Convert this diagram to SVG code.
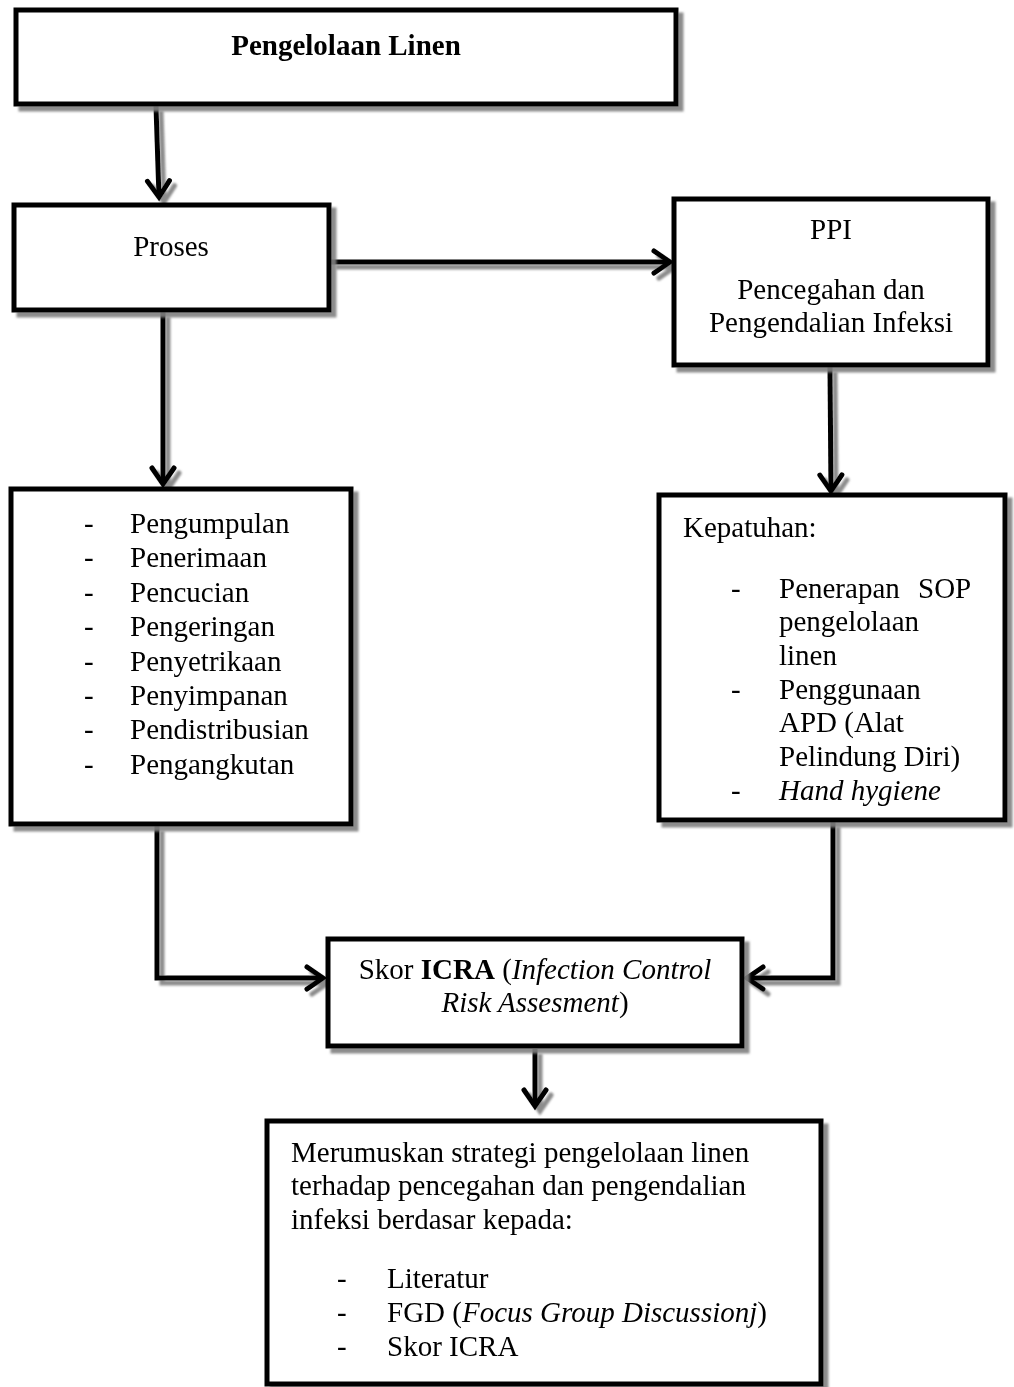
<svg xmlns="http://www.w3.org/2000/svg" width="1014" height="1387" viewBox="0 0 1014 1387">
<style>
.box{fill:#fff;stroke:#000;stroke-width:5}
.t{font-family:"Liberation Serif","Times New Roman",serif;font-size:29px;fill:#000}
.c{text-anchor:middle}
.b{font-weight:bold}
.i{font-style:italic}
.ln{fill:none;stroke:#000;stroke-width:5;stroke-linejoin:miter}
</style>
<defs>
<filter id="sh" x="-10%" y="-10%" width="130%" height="130%">
<feDropShadow dx="5" dy="5" stdDeviation="1" flood-color="#7f7f7f" flood-opacity="0.9"/>
</filter>
<marker id="ah" markerUnits="userSpaceOnUse" markerWidth="30" markerHeight="30" viewBox="-20 -15 30 30" refX="0" refY="0" orient="auto">
<path d="M-16,-11 L0,0 L-16,11" fill="none" stroke="#000" stroke-width="5" stroke-linecap="round" stroke-linejoin="miter"/>
</marker>
</defs>

<g id="connectors" filter="url(#sh)">
<path class="ln" d="M156,106 L159,197" marker-end="url(#ah)"/>
<path class="ln" d="M331,262 L670,262" marker-end="url(#ah)"/>
<path class="ln" d="M163,312 L163,484" marker-end="url(#ah)"/>
<path class="ln" d="M830,367 L831,491" marker-end="url(#ah)"/>
<path class="ln" d="M157,826 L157,978 L323,978" marker-end="url(#ah)"/>
<path class="ln" d="M833,822 L833,978 L747,978" marker-end="url(#ah)"/>
<path class="ln" d="M535,1049 L535,1106" marker-end="url(#ah)"/>
</g>

<g id="n1" filter="url(#sh)">
<rect class="box" x="16" y="10" width="660" height="94"/>
<text class="t c b" x="346" y="55">Pengelolaan Linen</text>
</g>

<g id="n2" filter="url(#sh)">
<rect class="box" x="14" y="205" width="315" height="105"/>
<text class="t c" x="171" y="256">Proses</text>
</g>

<g id="n3" filter="url(#sh)">
<rect class="box" x="674" y="199" width="314" height="166"/>
<text class="t c" x="831" y="239">PPI</text>
<text class="t c" x="831" y="299">Pencegahan dan</text>
<text class="t c" x="831" y="332">Pengendalian Infeksi</text>
</g>

<g id="n4" filter="url(#sh)">
<rect class="box" x="11" y="489" width="340" height="335"/>
<g class="t">
<text x="84" y="533">-</text><text x="130" y="533">Pengumpulan</text>
<text x="84" y="567">-</text><text x="130" y="567">Penerimaan</text>
<text x="84" y="602">-</text><text x="130" y="602">Pencucian</text>
<text x="84" y="636">-</text><text x="130" y="636">Pengeringan</text>
<text x="84" y="671">-</text><text x="130" y="671">Penyetrikaan</text>
<text x="84" y="705">-</text><text x="130" y="705">Penyimpanan</text>
<text x="84" y="739">-</text><text x="130" y="739">Pendistribusian</text>
<text x="84" y="774">-</text><text x="130" y="774">Pengangkutan</text>
</g>
</g>

<g id="n5" filter="url(#sh)">
<rect class="box" x="659" y="495" width="346" height="325"/>
<g class="t">
<text x="683" y="537">Kepatuhan:</text>
<text x="731" y="598">-</text><text x="779" y="598">Penerapan<tspan x="918">SOP</tspan></text>
<text x="779" y="631">pengelolaan</text>
<text x="779" y="665">linen</text>
<text x="731" y="699">-</text><text x="779" y="699">Penggunaan</text>
<text x="779" y="732">APD (Alat</text>
<text x="779" y="766">Pelindung Diri)</text>
<text x="731" y="800">-</text><text x="779" y="800" class="i">Hand hygiene</text>
</g>
</g>

<g id="n6" filter="url(#sh)">
<rect class="box" x="328" y="939" width="414" height="107"/>
<text class="t c" x="535" y="979">Skor <tspan class="b">ICRA</tspan> (<tspan class="i">Infection Control</tspan></text>
<text class="t c" x="535" y="1012"><tspan class="i">Risk Assesment</tspan>)</text>
</g>

<g id="n7" filter="url(#sh)">
<rect class="box" x="267" y="1121" width="554" height="263"/>
<g class="t">
<text x="291" y="1162">Merumuskan strategi pengelolaan linen</text>
<text x="291" y="1195">terhadap pencegahan dan pengendalian</text>
<text x="291" y="1229">infeksi berdasar kepada:</text>
<text x="337" y="1288">-</text><text x="387" y="1288">Literatur</text>
<text x="337" y="1322">-</text><text x="387" y="1322">FGD (<tspan class="i">Focus Group Discussionj</tspan>)</text>
<text x="337" y="1356">-</text><text x="387" y="1356">Skor ICRA</text>
</g>
</g>
</svg>
